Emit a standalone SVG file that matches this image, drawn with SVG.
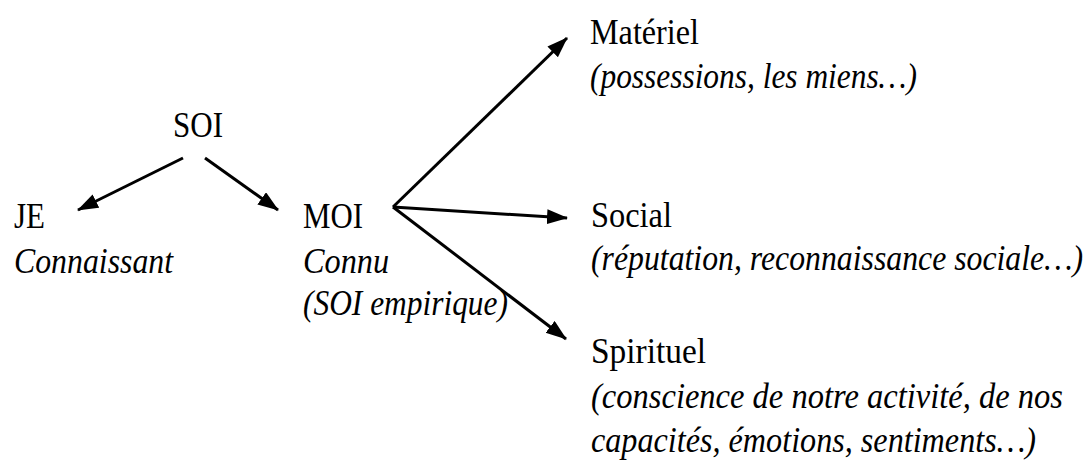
<svg xmlns="http://www.w3.org/2000/svg" width="1091" height="463" viewBox="0 0 1091 463">
  <style>
    text { font-family: "Liberation Serif", "Times New Roman", serif; font-size: 35px; fill: #000; }
    .it { font-style: italic; }
    .edge { stroke: #000; stroke-width: 3; fill: none; marker-end: url(#head); }
  </style>
  <defs>
    <marker id="head" markerUnits="userSpaceOnUse" markerWidth="22" markerHeight="16" refX="20" refY="7.5" orient="auto">
      <path d="M0,0 L21,7.5 L0,15 Z" fill="#000"/>
    </marker>
  </defs>

  <!-- arrows: SOI splits into JE / MOI, MOI fans out to its three parts -->
  <g id="connectors">
    <line class="edge" x1="183" y1="158" x2="78" y2="210"/>
    <line class="edge" x1="205" y1="158" x2="278" y2="210"/>
    <line class="edge" x1="393" y1="207" x2="567" y2="38"/>
    <line class="edge" x1="393" y1="207" x2="567" y2="218"/>
    <line class="edge" x1="393" y1="207" x2="566" y2="339"/>
  </g>

  <!-- labels use a slightly narrowed serif (horizontal scale 0.93) -->
  <g id="soi" transform="translate(173,0) scale(0.93,1)">
    <text x="0" y="137" textLength="53.8" lengthAdjust="spacingAndGlyphs">SOI</text>
  </g>

  <g id="je" transform="translate(14,0) scale(0.93,1)">
    <text x="0" y="228" textLength="33.3" lengthAdjust="spacingAndGlyphs">JE</text>
    <text class="it" x="0" y="273" textLength="171" lengthAdjust="spacingAndGlyphs">Connaissant</text>
  </g>

  <g id="moi" transform="translate(303,0) scale(0.93,1)">
    <text x="0" y="228" textLength="64.5" lengthAdjust="spacingAndGlyphs">MOI</text>
    <text class="it" x="0" y="273" textLength="92.5" lengthAdjust="spacingAndGlyphs">Connu</text>
    <text class="it" x="0" y="315" textLength="220.4" lengthAdjust="spacingAndGlyphs">(SOI empirique)</text>
  </g>

  <g id="materiel" transform="translate(590,0) scale(0.93,1)">
    <text x="0" y="44" textLength="117.2" lengthAdjust="spacingAndGlyphs">Matériel</text>
    <text class="it" x="0" y="88" textLength="351.6" lengthAdjust="spacingAndGlyphs">(possessions, les miens…)</text>
  </g>

  <g id="social">
    <text transform="translate(591,0) scale(0.93,1)" x="0" y="227" textLength="87.1" lengthAdjust="spacingAndGlyphs">Social</text>
    <!-- long line is anchored on its right end so it stays inside the frame -->
    <text class="it" x="1083" y="270" text-anchor="end" textLength="492" lengthAdjust="spacingAndGlyphs">(réputation, reconnaissance sociale…)</text>
  </g>

  <g id="spirituel" transform="translate(591,0) scale(0.93,1)">
    <text x="0" y="363" textLength="123.7" lengthAdjust="spacingAndGlyphs">Spirituel</text>
    <text class="it" x="0" y="408" textLength="507.5" lengthAdjust="spacingAndGlyphs">(conscience de notre activité, de nos</text>
    <text class="it" x="0" y="452" textLength="478.5" lengthAdjust="spacingAndGlyphs">capacités, émotions, sentiments…)</text>
  </g>
</svg>
